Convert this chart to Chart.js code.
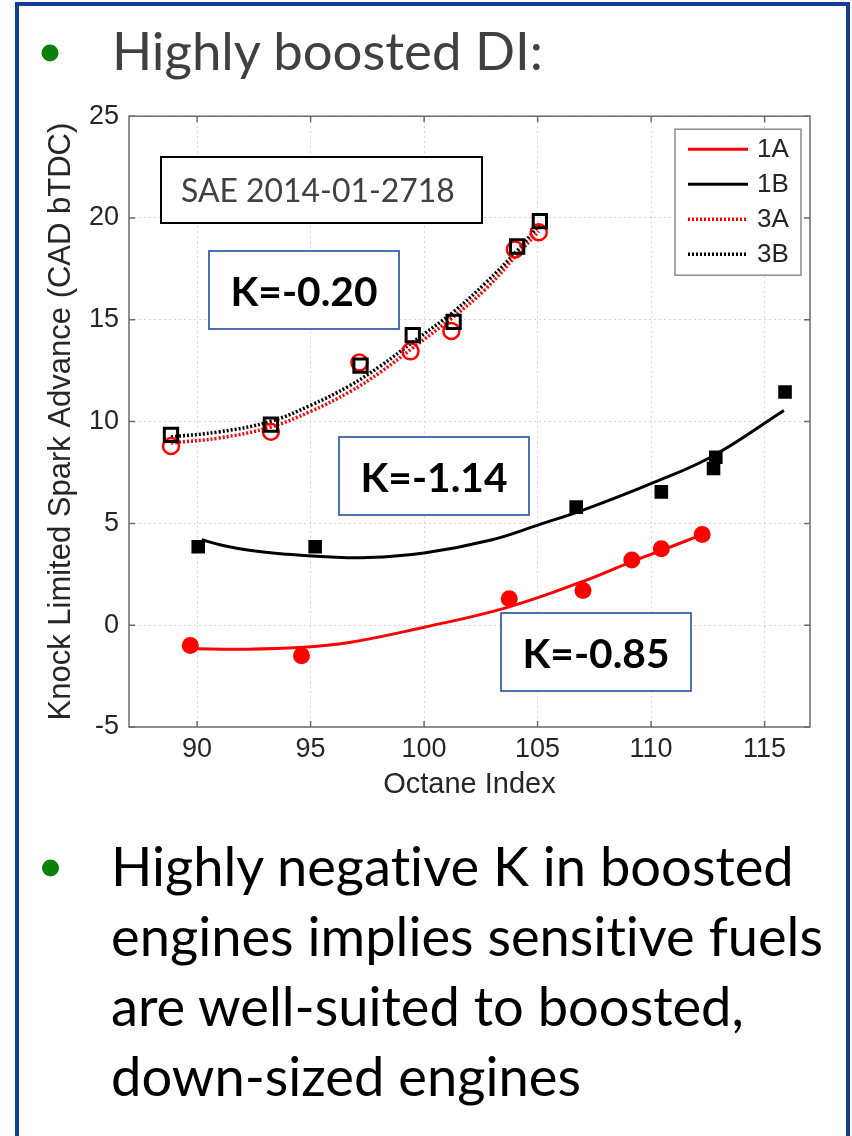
<!DOCTYPE html>
<html>
<head>
<meta charset="utf-8">
<title>Highly boosted DI</title>
<script src="https://cdn.jsdelivr.net/npm/chart.js@4.4.1/dist/chart.umd.min.js"></script>
<style>
  html, body { margin:0; padding:0; background:#ffffff; }
  #page { position:relative; width:852px; height:1136px; overflow:hidden; background:#ffffff; }
  #frame { position:absolute; left:15px; top:2px; width:835px; height:1170px; box-sizing:border-box; border:4px solid #143F8F; }
  #chart { position:absolute; left:20px; top:90px; }
  #overlay { position:absolute; left:0; top:0; }
  #overlay text { font-variant-ligatures: none; font-feature-settings: "liga" 0, "clig" 0; }
</style>
</head>
<body>
<div id="page">
  <div id="frame"></div>
  <canvas id="chart" width="820" height="720" style="width:820px;height:720px"></canvas>
  <svg id="overlay" width="852" height="1136" xmlns="http://www.w3.org/2000/svg">
    <circle cx="50" cy="53" r="8.5" fill="#0B800B"/>
    <text id="title" x="112" y="70" font-family="Lato, 'Open Sans', sans-serif" font-size="56" fill="#404040">Highly boosted DI:</text>

    <rect x="161" y="157" width="321" height="66" fill="#ffffff" stroke="#000000" stroke-width="2"/>
    <text id="sae" x="181" y="202" font-family="Lato, 'Open Sans', sans-serif" font-size="36" fill="#404040">SAE 2014-01-2718</text>

    <rect x="209" y="251" width="190" height="78" fill="#ffffff" stroke="#1F4E9A" stroke-width="1.6"/>
    <text class="kval" x="304" y="306" text-anchor="middle" font-family="Lato, 'Open Sans', sans-serif" font-weight="bold" font-size="44" fill="#000000">K=-0.20</text>
    <rect x="339" y="437" width="190" height="78" fill="#ffffff" stroke="#1F4E9A" stroke-width="1.6"/>
    <text class="kval" x="434" y="492" text-anchor="middle" font-family="Lato, 'Open Sans', sans-serif" font-weight="bold" font-size="44" fill="#000000">K=-1.14</text>
    <rect x="501" y="613" width="190" height="78" fill="#ffffff" stroke="#1F4E9A" stroke-width="1.6"/>
    <text class="kval" x="596" y="668" text-anchor="middle" font-family="Lato, 'Open Sans', sans-serif" font-weight="bold" font-size="44" fill="#000000">K=-0.85</text>

    <circle cx="50.5" cy="868" r="8.5" fill="#0B800B"/>
    <text class="body" x="111" y="886" font-family="Lato, 'Open Sans', sans-serif" font-size="56" fill="#000000">Highly negative K in boosted</text>
    <text class="body" id="bodyRef" x="111" y="956" font-family="Lato, 'Open Sans', sans-serif" font-size="56" fill="#000000">engines implies sensitive fuels</text>
    <text class="body" x="111" y="1026" font-family="Lato, 'Open Sans', sans-serif" font-size="56" fill="#000000">are well-suited to boosted,</text>
    <text class="body" x="111" y="1096" font-family="Lato, 'Open Sans', sans-serif" font-size="56" fill="#000000">down-sized engines</text>
  </svg>
</div>
<script>
// ---------------- data ----------------
// measured points (Octane Index, Knock Limited Spark Advance)
const oi_1A = [89.7, 94.6, 103.75, 107.0, 109.15, 110.45, 112.25];
const kl_1A = [-1.0, -1.5, 1.3, 1.7, 3.2, 3.75, 4.45];
const oi_1B = [90.05, 95.2, 106.7, 110.45, 112.75, 112.85, 115.9];
const kl_1B = [3.85, 3.85, 5.8, 6.55, 7.7, 8.25, 11.45];
const oi_3A = [88.85, 93.25, 97.15, 99.4, 101.2, 104.0, 105.05];
const kl_3A = [8.8, 9.5, 12.9, 13.45, 14.45, 18.45, 19.3];
const oi_3B = [88.85, 93.25, 97.2, 99.5, 101.3, 104.1, 105.1];
const kl_3B = [9.35, 9.85, 12.75, 14.25, 14.9, 18.6, 19.85];

// fitted curves
const fitX_1A = [89.7, 92.0, 94.5, 96.7, 100.0, 103.6, 107.0, 109.1, 110.4, 112.25];
const fitY_1A = [-1.15, -1.18, -1.1, -0.85, -0.1, 0.85, 2.15, 3.1, 3.65, 4.45];
const fitX_1B = [90.2, 91.0, 92.3, 94.0, 95.7, 97.5, 100.0, 103.0, 105.1, 107.0, 110.1, 112.7, 115.85];
const fitY_1B = [4.2, 3.95, 3.68, 3.48, 3.36, 3.32, 3.55, 4.2, 4.95, 5.65, 7.0, 8.3, 10.55];
const fitX_3A = [88.85, 91.0, 93.2, 95.0, 96.7, 98.06, 99.5, 101.3, 102.7, 104.1, 105.05];
const fitY_3A = [8.95, 9.2, 9.72, 10.5, 11.45, 12.42, 13.62, 15.15, 16.5, 18.2, 19.35];
const fitX_3B = [88.85, 91.0, 93.2, 95.0, 96.7, 98.06, 99.5, 101.3, 102.7, 104.1, 105.1];
const fitY_3B = [9.25, 9.5, 10.0, 10.8, 11.75, 12.72, 13.9, 15.4, 16.8, 18.4, 19.7];

// axes
const xMin = 87, xMax = 117;
const xTicks = [90, 95, 100, 105, 110, 115];
const yMin = -5, yMax = 25;
const yTicks = [-5, 0, 5, 10, 15, 20, 25];
const xTitle = 'Octane Index';
const yTitle = 'Knock Limited Spark Advance (CAD bTDC)';
const legendLabels = ['1A', '1B', '3A', '3B'];

// ---------------- chart ----------------
const AX = '#262626';
const FONT = '"Liberation Sans", Arial, sans-serif';
Chart.defaults.font.family = FONT;

function pts(xs, ys) { return xs.map((x, i) => ({ x: x, y: ys[i] })); }

const insideLegend = {
  id: 'insideLegend',
  afterDatasetsDraw(chart) {
    const { ctx, chartArea: a } = chart;
    const items = chart.data.datasets.filter(d => d.legendRow !== undefined)
      .sort((p, q) => p.legendRow - q.legendRow);
    const bw = 126, bh = 146, bx = a.right - 135, by = a.top + 13;
    ctx.save();
    ctx.fillStyle = '#ffffff';
    ctx.fillRect(bx, by, bw, bh);
    ctx.strokeStyle = '#8c8c8c';
    ctx.lineWidth = 1.5;
    ctx.strokeRect(bx, by, bw, bh);
    ctx.font = '26px ' + FONT;
    ctx.textBaseline = 'middle';
    items.forEach((d, i) => {
      const y = by + 20 + i * 35;
      ctx.beginPath();
      ctx.setLineDash(d.borderDash || []);
      ctx.strokeStyle = d.borderColor;
      ctx.lineWidth = d.borderWidth;
      ctx.moveTo(bx + 13, y);
      ctx.lineTo(bx + 73, y);
      ctx.stroke();
      ctx.setLineDash([]);
      ctx.fillStyle = AX;
      ctx.fillText(d.label, bx + 82, y + 1);
    });
    ctx.restore();
  }
};

const axesBox = {
  id: 'axesBox',
  beforeDatasetsDraw(chart) {
    const { ctx, chartArea: a, scales } = chart;
    const xs = scales.x, ys = scales.y;
    const tl = 6;
    ctx.save();
    ctx.strokeStyle = '#6b6b6b';
    ctx.lineWidth = 1.5;
    ctx.strokeRect(a.left, a.top, a.right - a.left, a.bottom - a.top);
    ctx.beginPath();
    xs.ticks.forEach(t => {
      const p = xs.getPixelForValue(t.value);
      ctx.moveTo(p, a.bottom); ctx.lineTo(p, a.bottom - tl);
      ctx.moveTo(p, a.top); ctx.lineTo(p, a.top + tl);
    });
    ys.ticks.forEach(t => {
      const p = ys.getPixelForValue(t.value);
      ctx.moveTo(a.left, p); ctx.lineTo(a.left + tl, p);
      ctx.moveTo(a.right, p); ctx.lineTo(a.right - tl, p);
    });
    ctx.stroke();
    ctx.restore();
  }
};

const datasets = [
  { label: '3B points', data: pts(oi_3B, kl_3B), pointStyle: 'rect', pointRadius: 9.4, pointBorderWidth: 3,
    pointBorderColor: '#000000', pointBackgroundColor: 'rgba(0,0,0,0)', showLine: false, order: 1 },
  { label: '3A points', data: pts(oi_3A, kl_3A), pointStyle: 'circle', pointRadius: 8, pointBorderWidth: 2.5,
    pointBorderColor: '#ff0000', pointBackgroundColor: 'rgba(0,0,0,0)', showLine: false, order: 2 },
  { label: '1B points', data: pts(oi_1B, kl_1B), pointStyle: 'rect', pointRadius: 9.6, pointBorderWidth: 0,
    pointBorderColor: '#000000', pointBackgroundColor: '#000000', showLine: false, order: 3 },
  { label: '1A points', data: pts(oi_1A, kl_1A), pointStyle: 'circle', pointRadius: 8.5, pointBorderWidth: 0,
    pointBorderColor: '#ff0000', pointBackgroundColor: '#ff0000', showLine: false, order: 4 },
  { label: legendLabels[3], legendRow: 3, data: pts(fitX_3B, fitY_3B), showLine: true, pointRadius: 0,
    borderColor: '#000000', borderWidth: 3.5, borderDash: [2, 2], tension: 0.4, order: 5 },
  { label: legendLabels[2], legendRow: 2, data: pts(fitX_3A, fitY_3A), showLine: true, pointRadius: 0,
    borderColor: '#ff0000', borderWidth: 3.5, borderDash: [2, 2], tension: 0.4, order: 6 },
  { label: legendLabels[1], legendRow: 1, data: pts(fitX_1B, fitY_1B), showLine: true, pointRadius: 0,
    borderColor: '#000000', borderWidth: 3, tension: 0.4, order: 7 },
  { label: legendLabels[0], legendRow: 0, data: pts(fitX_1A, fitY_1A), showLine: true, pointRadius: 0,
    borderColor: '#ff0000', borderWidth: 3, tension: 0.4, order: 8 }
];

new Chart(document.getElementById('chart'), {
  type: 'scatter',
  data: { datasets: datasets },
  plugins: [axesBox, insideLegend],
  options: {
    responsive: false,
    animation: false,
    devicePixelRatio: 1,
    events: [],
    layout: { padding: { top: 24, right: 30, bottom: 0, left: 0 } },
    plugins: { legend: { display: false }, tooltip: { enabled: false } },
    scales: {
      x: {
        type: 'linear', min: xMin, max: xMax,
        afterBuildTicks(s) { s.ticks = xTicks.map(v => ({ value: v })); },
        ticks: { color: AX, font: { size: 27 }, padding: 6, maxRotation: 0, autoSkip: false },
        grid: { color: '#d6d6d6', lineWidth: 1, drawTicks: false },
        border: { display: false, dash: [2, 3] },
        title: { display: true, text: xTitle, color: AX, font: { size: 29 }, padding: { top: 0, bottom: 8 } },
        afterFit(s) { s.height = 83; }
      },
      y: {
        type: 'linear', min: yMin, max: yMax,
        afterBuildTicks(s) { s.ticks = yTicks.map(v => ({ value: v })); },
        ticks: { color: AX, font: { size: 27 }, padding: 10, autoSkip: false },
        grid: { color: '#d6d6d6', lineWidth: 1, drawTicks: false },
        border: { display: false, dash: [2, 3] },
        title: { display: true, text: yTitle, color: AX, font: { size: 31 }, padding: { top: 23, bottom: 0 } },
        afterFit(s) { s.width = 109; }
      }
    }
  }
});

// fit slide text to the widths measured in the reference
function fitWidth(el, target) {
  const w = el.getComputedTextLength();
  const fs = parseFloat(el.getAttribute('font-size'));
  return fs * target / w;
}
const titleEl = document.getElementById('title');
titleEl.setAttribute('font-size', fitWidth(titleEl, 431));
const saeEl = document.getElementById('sae');
saeEl.setAttribute('font-size', fitWidth(saeEl, 274));
const bodyFs = fitWidth(document.getElementById('bodyRef'), 712);
document.querySelectorAll('.body').forEach(e => e.setAttribute('font-size', bodyFs));
const kEls = document.querySelectorAll('.kval');
const kFs = fitWidth(kEls[0], 147);
kEls.forEach(e => e.setAttribute('font-size', kFs));
</script>
</body>
</html>
